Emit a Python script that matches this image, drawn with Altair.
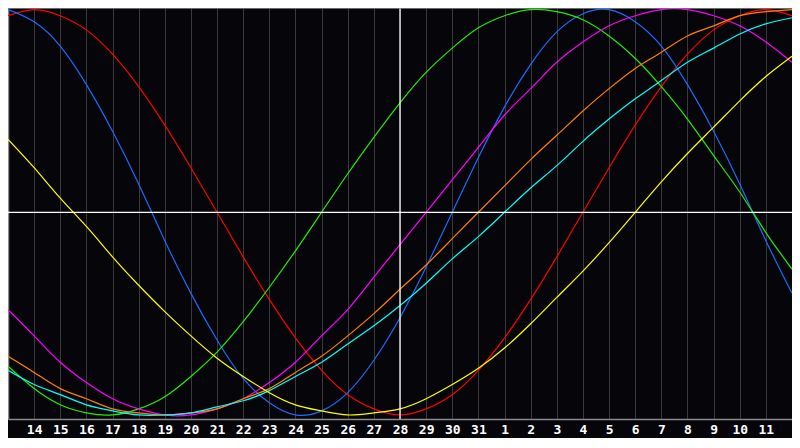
import altair as alt
import pandas as pd

# day index 0..30 (0 = the 13th, 15 = the 28th "today", 30 = the 12th)
day_index = list(range(31))
tick_index = list(range(1, 30))
today_index = 15
y_low, y_high = -1.02, 1.008

# cycle values, one per day (-1 .. 1)
red_vals = [0.97, 1.00, 0.97, 0.90, 0.78, 0.62, 0.43, 0.22, 0.00, -0.22, -0.43, -0.62,
            -0.78, -0.90, -0.97, -1.00, -0.97, -0.90, -0.78, -0.62, -0.43, -0.22, 0.00,
            0.22, 0.43, 0.62, 0.78, 0.90, 0.97, 1.00, 0.97]
blue_vals = [1.00, 0.94, 0.82, 0.63, 0.40, 0.14, -0.14, -0.40, -0.63, -0.82, -0.94, -1.00,
             -0.98, -0.89, -0.73, -0.52, -0.27, 0.00, 0.27, 0.52, 0.73, 0.89, 0.98, 1.00,
             0.94, 0.82, 0.63, 0.40, 0.14, -0.14, -0.40]
green_vals = [-0.76, -0.87, -0.95, -0.99, -1.00, -0.97, -0.91, -0.81, -0.69, -0.54, -0.37,
              -0.19, 0.00, 0.19, 0.37, 0.54, 0.69, 0.81, 0.91, 0.97, 1.00, 0.99, 0.95, 0.87,
              0.76, 0.62, 0.46, 0.28, 0.10, -0.10, -0.28]
magenta_vals = [-0.48, -0.61, -0.74, -0.84, -0.92, -0.97, -1.00, -1.00, -0.97, -0.92, -0.84,
                -0.74, -0.61, -0.48, -0.32, -0.16, 0.00, 0.16, 0.32, 0.48, 0.61, 0.74, 0.84,
                0.92, 0.97, 1.00, 1.00, 0.97, 0.92, 0.84, 0.74]
orange_vals = [-0.71, -0.79, -0.87, -0.92, -0.97, -0.99, -1.00, -0.99, -0.97, -0.92, -0.87,
               -0.79, -0.71, -0.61, -0.50, -0.38, -0.26, -0.13, 0.00, 0.13, 0.26, 0.38, 0.50,
               0.61, 0.71, 0.79, 0.87, 0.92, 0.97, 0.99, 1.00]
cyan_vals = [-0.78, -0.85, -0.90, -0.95, -0.98, -1.00, -1.00, -0.99, -0.96, -0.93, -0.88,
             -0.81, -0.74, -0.65, -0.56, -0.46, -0.35, -0.23, -0.12, 0.00, 0.12, 0.23, 0.35,
             0.46, 0.56, 0.65, 0.74, 0.81, 0.88, 0.93, 0.96]
yellow_vals = [0.36, 0.22, 0.07, -0.07, -0.22, -0.36, -0.49, -0.61, -0.72, -0.81, -0.89,
               -0.95, -0.98, -1.00, -0.99, -0.97, -0.92, -0.85, -0.77, -0.67, -0.55, -0.42,
               -0.29, -0.15, 0.00, 0.15, 0.29, 0.42, 0.55, 0.67, 0.77]

series = [
    ("red", "#ff0000", red_vals),
    ("blue", "#1c6cff", blue_vals),
    ("green", "#22ee00", green_vals),
    ("magenta", "#ff00ff", magenta_vals),
    ("orange", "#ff8000", orange_vals),
    ("cyan", "#00ffff", cyan_vals),
    ("yellow", "#ffff00", yellow_vals),
]

x_scale = alt.Scale(domain=[0, 30], nice=False, zero=False)
y_scale = alt.Scale(domain=[y_low, y_high], nice=False, zero=False)

x_axis = alt.Axis(
    values=tick_index,
    labelExpr="datum.value <= 18 ? datum.value + 13 : datum.value - 18",
    grid=True, gridColor="#3a3a3a", gridWidth=1,
    ticks=False, domain=True, domainColor="#8c8c8c", domainWidth=1.5,
    labelColor="#ffffff", labelFont="DejaVu Sans Mono", labelFontWeight="bold",
    labelFontSize=13, labelPadding=4, labelOverlap=False, labelFlush=False,
    title=None,
)
y_axis = alt.Axis(labels=False, ticks=False, grid=False, domain=True,
                  domainColor="#8c8c8c", domainWidth=1.5, title=None)

layers = []
for name, color, vals in series:
    df = pd.DataFrame({"d": day_index, "v": vals})
    layers.append(
        alt.Chart(df).mark_line(color=color, strokeWidth=1.2, interpolate="natural", clip=True)
        .encode(x=alt.X("d:Q", scale=x_scale, axis=x_axis),
                y=alt.Y("v:Q", scale=y_scale, axis=y_axis))
    )

today_df = pd.DataFrame({"d": [today_index]})
today_rule = alt.Chart(today_df).mark_rule(color="#ffffff", strokeWidth=1.3).encode(
    x=alt.X("d:Q", scale=x_scale, axis=x_axis)
)
zero_rule = alt.Chart(today_df).mark_rule(color="#ffffff", strokeWidth=1.3).encode(
    y=alt.datum(0, scale=y_scale, axis=y_axis)
)
top_rule = alt.Chart(today_df).mark_rule(color="#8c8c8c", strokeWidth=1.5).encode(
    y=alt.datum(y_high, scale=y_scale, axis=y_axis)
)

chart = alt.layer(*layers, today_rule, zero_rule, top_rule).properties(
    width=784, height=411,
    padding={"left": 0, "right": 0, "top": 0, "bottom": 19},
    autosize=alt.AutoSizeParams(type="none"),
    background="#05050a",
).configure_view(stroke=None, fill="#05050a")

chart.save("out.html", embed_options={"renderer": "svg", "actions": False})
